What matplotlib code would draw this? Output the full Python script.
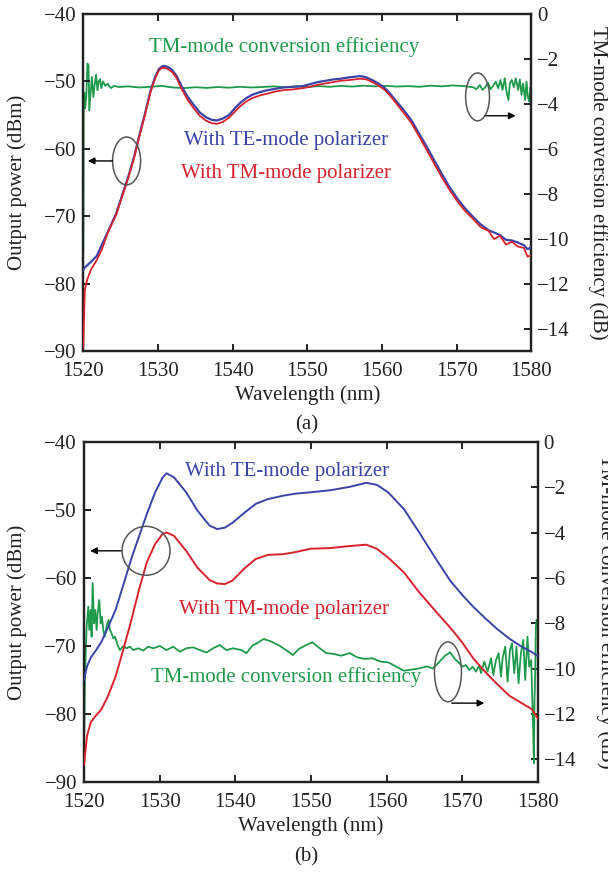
import numpy as np
import matplotlib
matplotlib.use('Agg')
import matplotlib.pyplot as plt
from matplotlib.patches import Ellipse

plt.rcParams['font.family'] = ['Liberation Serif', 'DejaVu Serif']
plt.rcParams['axes.unicode_minus'] = True

# ---------------- (a) data ----------------
wl_a = [1520.0, 1520.2, 1520.5, 1521.0, 1521.8, 1522.5, 1523.3, 1524.4, 1525.2, 1526.0,
        1526.8, 1527.5, 1528.3, 1529.0, 1529.6, 1530.1, 1530.5, 1530.9, 1531.4, 1531.9,
        1532.5, 1533.2, 1534.0, 1534.8, 1535.6, 1536.4, 1537.2, 1537.9, 1538.7, 1539.5,
        1540.2, 1541.0, 1541.8, 1542.6, 1543.6, 1544.7, 1545.7, 1546.8, 1548.0, 1549.4,
        1550.4, 1551.4, 1552.5, 1553.5, 1554.5, 1555.6, 1556.4, 1557.1, 1557.9, 1558.7,
        1559.5, 1560.3, 1561.0, 1561.8, 1562.8, 1563.9, 1565.0, 1566.0, 1567.0, 1568.0,
        1569.0, 1570.1, 1571.1, 1572.2, 1573.2, 1574.3, 1575.0, 1575.8, 1576.6, 1577.4,
        1578.2, 1579.0, 1579.5, 1580.0]
te_a = [-78.0, -77.6, -77.3, -76.8, -75.9, -74.2, -72.3, -69.6, -66.9, -64.2,
        -61.2, -58.0, -54.6, -51.4, -49.4, -48.2, -47.8, -47.7, -47.9, -48.3,
        -49.2, -50.8, -52.3, -53.5, -54.6, -55.3, -55.7, -55.8, -55.5, -55.0,
        -54.1, -53.2, -52.5, -52.0, -51.6, -51.3, -51.1, -50.9, -50.8, -50.7,
        -50.4, -50.1, -49.9, -49.7, -49.6, -49.4, -49.3, -49.2, -49.4, -49.8,
        -50.3, -50.9, -51.7, -52.8, -54.1, -55.7, -57.8, -59.7, -61.7, -63.7,
        -65.6, -67.4, -68.8, -70.1, -71.2, -72.1, -72.4, -72.8, -73.5, -73.6,
        -73.9, -74.3, -74.9, -74.6]
tm_a = [-89.5, -81.0, -79.5, -78.0, -76.5, -74.9, -72.4, -69.8, -67.1, -64.4,
        -61.4, -58.2, -54.8, -51.6, -49.6, -48.4, -48.0, -48.0, -48.2, -48.6,
        -49.5, -51.2, -52.8, -54.0, -55.1, -55.8, -56.2, -56.3, -56.0, -55.4,
        -54.6, -53.7, -53.0, -52.5, -52.1, -51.8, -51.5, -51.3, -51.2, -51.0,
        -50.8, -50.5, -50.3, -50.1, -49.9, -49.8, -49.7, -49.6, -49.7, -50.1,
        -50.6, -51.2, -52.0, -53.1, -54.5, -56.1, -58.2, -60.2, -62.2, -64.2,
        -66.0, -67.8, -69.2, -70.4, -71.6, -72.2, -73.4, -72.9, -74.2, -73.8,
        -74.5, -74.7, -76.0, -75.8]

wl_g_a = [1520.0, 1520.05, 1520.15, 1520.25, 1520.4, 1520.55, 1520.7, 1520.8, 1521.0, 1521.15,
          1521.35, 1521.5, 1521.7, 1521.9, 1522.05, 1522.25, 1522.4, 1522.65, 1522.95, 1523.25,
          1523.7, 1524.1, 1524.8, 1526.0, 1527.5, 1529.0, 1530.5, 1532.0, 1533.5, 1535.0,
          1536.5, 1538.0, 1539.5, 1541.0, 1542.5, 1544.0, 1545.5, 1547.0, 1548.5, 1550.0,
          1551.5, 1553.0, 1554.5, 1556.0, 1557.5, 1559.0, 1560.5, 1562.0, 1563.5, 1565.0,
          1566.5, 1568.0, 1569.5, 1571.0, 1572.21, 1572.66, 1573.11, 1573.47, 1573.82, 1574.22,
          1574.54, 1574.89, 1575.25, 1575.56, 1575.87, 1576.14, 1576.45, 1576.68, 1576.94, 1577.12,
          1577.39, 1577.66, 1577.92, 1578.23, 1578.46, 1578.69, 1578.90, 1579.17, 1579.36, 1579.53,
          1579.71, 1579.89, 1580.0]
eff_a = [-10.6, -4.1, -3.5, -4.2, -3.7, -2.2, -2.3, -4.3, -3.4, -2.8,
         -3.7, -3.2, -2.7, -3.4, -3.0, -2.9, -3.3, -3.0, -3.2, -3.1,
         -3.3, -3.2, -3.25, -3.22, -3.27, -3.24, -3.2, -3.27, -3.3, -3.26,
         -3.29, -3.25, -3.28, -3.24, -3.27, -3.25, -3.22, -3.26, -3.23, -3.25,
         -3.21, -3.24, -3.2, -3.23, -3.19, -3.22, -3.2, -3.23, -3.21, -3.24,
         -3.19, -3.22, -3.18, -3.21, -3.26, -3.35, -3.16, -3.38, -3.26, -3.06,
         -3.35, -3.20, -3.01, -3.31, -2.94, -3.38, -2.86, -3.46, -3.83, -3.09,
         -2.94, -3.26, -2.86, -3.38, -2.91, -3.60, -3.09, -3.83, -3.01, -3.68,
         -3.90, -3.26, -3.5]

# ---------------- (b) data ----------------
wl_b = [1520.0, 1520.4, 1520.9, 1521.6, 1522.3, 1523.2, 1524.2, 1525.2, 1526.3, 1527.3,
        1528.3, 1529.4, 1530.4, 1530.9, 1531.9, 1533.5, 1535.0, 1536.6, 1537.6, 1538.6,
        1539.6, 1541.2, 1542.7, 1544.3, 1546.3, 1547.9, 1549.9, 1552.5, 1555.1, 1557.3,
        1558.7, 1560.2, 1562.3, 1564.3, 1566.4, 1568.4, 1570.0, 1571.5, 1573.1, 1574.6,
        1576.2, 1577.7, 1579.2, 1580.0]
te_b = [-75.0, -73.0, -71.7, -70.6, -69.4, -67.2, -64.6, -61.0, -57.0, -53.8,
        -50.6, -47.4, -45.2, -44.6, -45.2, -47.4, -50.1, -52.3, -52.8, -52.6,
        -51.9, -50.4, -49.1, -48.4, -47.9, -47.6, -47.4, -47.1, -46.6, -46.0,
        -46.3, -47.4, -49.9, -53.3, -57.0, -60.4, -62.5, -64.3, -66.0, -67.5,
        -68.9, -70.0, -70.9, -71.5]
tm_b = [-87.5, -83.2, -81.2, -80.2, -79.3, -77.3, -74.4, -70.5, -66.0, -61.6,
        -57.7, -55.0, -53.5, -53.3, -53.8, -56.0, -58.5, -60.3, -60.8, -60.9,
        -60.4, -58.6, -57.2, -56.6, -56.5, -56.2, -55.7, -55.6, -55.3, -55.1,
        -55.7, -57.0, -59.2, -62.1, -64.8, -67.3, -69.5, -71.9, -73.9, -75.6,
        -77.3, -78.3, -79.3, -80.7]

wl_g_b = [1520.0, 1520.13, 1520.35, 1520.57, 1520.70, 1520.88, 1521.01, 1521.14, 1521.32, 1521.49,
          1521.67, 1521.80, 1522.02, 1522.20, 1522.37, 1522.55, 1522.73, 1522.90, 1523.08, 1523.26,
          1523.43, 1523.65, 1523.87, 1524.09, 1524.31, 1524.53, 1524.75, 1525.19, 1525.63, 1526.07,
          1526.50, 1527.16, 1527.82, 1528.48, 1529.14, 1530.03, 1530.91, 1531.78, 1532.67, 1533.55,
          1534.42, 1535.30, 1536.19, 1537.06, 1537.94, 1538.83, 1539.70, 1540.80, 1541.46, 1542.33,
          1542.7, 1543.75, 1544.8, 1545.8, 1546.8, 1547.6, 1548.4, 1549.4, 1550.2, 1551.0,
          1552.0, 1553.0, 1554.0, 1555.1, 1556.1, 1557.1, 1558.1, 1559.2, 1560.2, 1561.2,
          1562.3, 1563.3, 1564.3, 1565.3, 1566.1, 1566.9, 1567.7, 1568.4, 1569.0, 1569.6,
          1570.04, 1570.49, 1570.92, 1571.36, 1571.81, 1572.24, 1572.46, 1572.90, 1573.34, 1573.79,
          1574.09, 1574.45, 1574.79, 1575.11, 1575.32, 1575.67, 1575.98, 1576.29, 1576.56, 1576.86,
          1577.16, 1577.43, 1577.74, 1578.05, 1578.31, 1578.61, 1578.84, 1579.10, 1579.37, 1579.46,
          1579.54, 1579.63, 1579.72, 1579.80, 1580.0]
eff_b = [-13.5, -10.2, -8.15, -7.26, -8.29, -7.41, -8.59, -6.23, -8.0, -7.41,
         -8.29, -7.56, -6.97, -8.0, -7.71, -8.29, -8.59, -8.29, -8.0, -7.85,
         -8.29, -8.44, -8.66, -8.59, -8.81, -9.03, -9.18, -9.0, -9.1, -9.03,
         -9.18, -9.1, -9.2, -9.03, -9.1, -9.0, -9.18, -9.03, -9.25, -9.1,
         -9.06, -9.18, -9.29, -9.1, -8.96, -9.18, -9.1, -9.18, -9.32, -8.96,
         -8.91, -8.69, -8.81, -8.98, -9.2, -9.4, -9.13, -8.95, -8.84, -9.06,
         -9.31, -9.35, -9.43, -9.31, -9.5, -9.57, -9.54, -9.69, -9.72, -9.9,
         -10.09, -10.04, -9.99, -9.9, -9.99, -9.72, -9.43, -9.28, -9.57, -9.76,
         -9.91, -9.84, -10.06, -9.91, -10.13, -9.84, -10.2, -9.69, -10.13, -9.54,
         -10.28, -9.62, -9.32, -10.35, -9.54, -9.03, -10.57, -9.18, -8.88, -10.2,
         -9.03, -10.64, -9.32, -8.73, -10.5, -8.59, -9.91, -9.62, -12.85, -14.17,
         -11.38, -10.2, -8.15, -7.85, -7.9]

wl_ticks = [1520, 1530, 1540, 1550, 1560, 1570, 1580]
pw_ticks = [-90, -80, -70, -60, -50, -40]
eff_ticks = [-14, -12, -10, -8, -6, -4, -2, 0]

c_te = '#3a44a6'
c_tm = '#d8222e'
c_eff = '#1f9a4c'
ink = '#222222'

fig = plt.figure(figsize=(6.08, 8.74), dpi=100)
ax_a = fig.add_axes([83.3 / 608, 1 - 351 / 874, 448 / 608, 337 / 874])
ax_b = fig.add_axes([84 / 608, 1 - 782 / 874, 454 / 608, 340 / 874])


def style(ax, ax2):
    ax.set_xlim(1520, 1580)
    ax.set_ylim(-90, -40)
    ax2.set_ylim(-15, 0)
    ax.set_xticks(wl_ticks)
    ax.set_yticks(pw_ticks)
    ax2.set_yticks(eff_ticks)
    for a in (ax, ax2):
        for s in a.spines.values():
            s.set_linewidth(1.6)
            s.set_color(ink)
    ax.tick_params(axis='x', direction='in', top=True, length=5, width=1.4,
                   labelsize=15, pad=8, colors=ink)
    ax.tick_params(axis='y', direction='in', length=5, width=1.4,
                   labelsize=15, pad=5, colors=ink)
    ax2.tick_params(axis='y', direction='in', length=5, width=1.4,
                    labelsize=15, pad=4, colors=ink)
    ax.set_xlabel('Wavelength (nm)', fontsize=15, color=ink, va='center')
    ax.set_ylabel('Output power (dBm)', fontsize=15, color=ink, va='center')
    ax2.set_ylabel('TM-mode conversion efficiency (dB)', fontsize=15, color=ink,
                   rotation=270, va='center')
    ax.xaxis.set_label_coords(0.5, -0.131)
    ax.yaxis.set_label_coords(-0.148, 0.5)
    ax2.yaxis.set_label_coords(1.149, 0.5)


def marker(ax, cx, cy, w, h, x0, y0, x1):
    ax.add_patch(Ellipse((cx, cy), w, h, fill=False, edgecolor='#555555', lw=1.1, zorder=5))
    ax.annotate('', xy=(x1, y0), xytext=(x0, y0),
                arrowprops=dict(arrowstyle='-|>', color='black', lw=1.0,
                                mutation_scale=10, shrinkA=0, shrinkB=0), zorder=5)


# (a)
ax2_a = ax_a.twinx()
ax2_a.plot(wl_g_a, eff_a, color=c_eff, lw=1.3)
ax_a.plot(wl_a, te_a, color=c_te, lw=1.6, zorder=3)
ax_a.plot(wl_a, tm_a, color=c_tm, lw=1.3, zorder=3)
style(ax_a, ax2_a)
ax_a.text(1546.9, -44.9, 'TM-mode conversion efficiency', color=c_eff, fontsize=15,
          ha='center', va='center')
ax_a.text(1547.1, -58.7, 'With TE-mode polarizer', color=c_te, fontsize=15,
          ha='center', va='center')
ax_a.text(1547.1, -63.6, 'With TM-mode polarizer', color=c_tm, fontsize=15,
          ha='center', va='center')
marker(ax_a, 1525.8, -61.8, 3.75, 7.1, 1523.9, -61.8, 1520.6)
marker(ax_a, 1572.8, -52.3, 3.2, 7.1, 1573.9, -55.1, 1577.9)
fig.text(307 / 608, 1 - 425 / 874, '(a)', fontsize=15, color=ink, ha='center', va='center')

# (b)
ax2_b = ax_b.twinx()
ax2_b.plot(wl_g_b, eff_b, color=c_eff, lw=1.3)
ax_b.plot(wl_b, te_b, color=c_te, lw=1.4, zorder=3)
ax_b.plot(wl_b, tm_b, color=c_tm, lw=1.4, zorder=3)
style(ax_b, ax2_b)
ax_b.text(1546.8, -44.3, 'With TE-mode polarizer', color=c_te, fontsize=15,
          ha='center', va='center')
ax_b.text(1546.4, -64.6, 'With TM-mode polarizer', color=c_tm, fontsize=15,
          ha='center', va='center')
ax_b.text(1546.7, -74.6, 'TM-mode conversion efficiency', color=c_eff, fontsize=15,
          ha='center', va='center')
marker(ax_b, 1528.2, -56.0, 6.34, 7.2, 1524.9, -56.0, 1520.8)
marker(ax_b, 1568.1, -73.8, 3.57, 8.8, 1568.6, -78.4, 1572.9)
fig.text(306 / 608, 1 - 857 / 874, '(b)', fontsize=15, color=ink, ha='center', va='center')

# power axes drawn above the twin so the ellipses and arrows stay visible
for ax, ax2 in ((ax_a, ax2_a), (ax_b, ax2_b)):
    ax.set_zorder(ax2.get_zorder() + 1)
    ax.patch.set_visible(False)

fig.savefig('out.png', dpi=100)
